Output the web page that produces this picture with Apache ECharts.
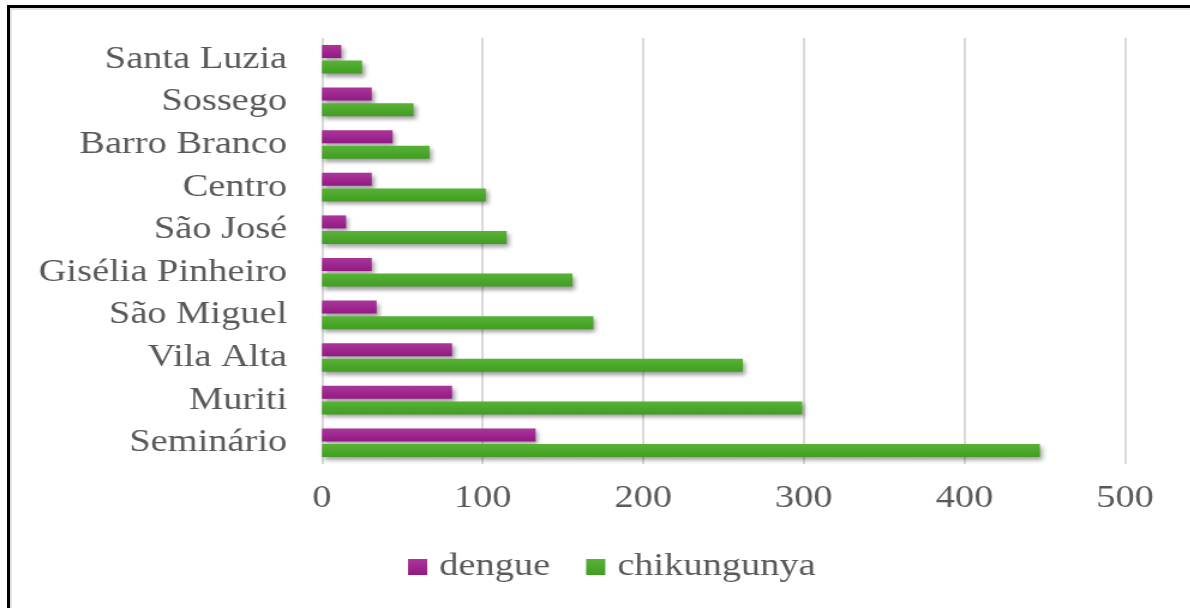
<!DOCTYPE html>
<html>
<head>
<meta charset="utf-8">
<script src="https://cdn.jsdelivr.net/npm/echarts@6/dist/echarts.min.js"></script>
<style>
  html, body { margin: 0; padding: 0; background: #fff; overflow: hidden; }
  #wrap { position: absolute; left: 0; top: 0; width: 1190px; height: 608px; overflow: hidden; background: #fff; }
  #chart { position: absolute; left: 0; top: 0; width: 992px; height: 608px; transform: scaleX(1.2); transform-origin: 0 0; }
  #frame { position: absolute; left: 7px; top: 5px; width: 1180px; height: 600px;
           border-top: 3px solid #000; border-left: 3px solid #000;
           border-right: 2px solid #e4e4e4; border-bottom: 2px solid #e4e4e4;
           box-shadow: inset 2px 2px 0 #e2e2e2; pointer-events: none; }
</style>
</head>
<body>
<div id="wrap">
  <div id="chart"></div>
  <div id="frame"></div>
</div>
<script>
const categories = ['Santa Luzia', 'Sossego', 'Barro Branco', 'Centro', 'São José',
                    'Gisélia Pinheiro', 'São Miguel', 'Vila Alta', 'Muriti', 'Seminário'];
const dengue      = [12, 31, 44, 31, 15, 31, 34, 81, 81, 133];
const chikungunya = [25, 57, 67, 102, 115, 156, 169, 262, 299, 447];
const xTicks = { min: 0, max: 500, interval: 100 };

const chart = echarts.init(document.getElementById('chart'), null, { renderer: 'canvas' });
const font = '"Liberation Serif", "Times New Roman", serif';
const textColor = '#595959';

function grad(top, bottom) {
  return new echarts.graphic.LinearGradient(0, 0, 0, 1, [
    { offset: 0, color: top }, { offset: 1, color: bottom }
  ]);
}
const shadow = { shadowColor: 'rgba(0,0,0,0.38)', shadowBlur: 4, shadowOffsetX: 2, shadowOffsetY: 3 };

chart.setOption({
  animation: false,
  backgroundColor: 'transparent',
  grid: { left: 268.3, right: 54.5, top: 38, bottom: 144, containLabel: false },
  legend: {
    left: 335, top: 546,
    itemWidth: 16, itemHeight: 16, itemGap: 30,
    icon: 'rect',
    textStyle: { fontFamily: font, fontSize: 32, color: textColor, padding: [0, 0, 0, 5] },
    data: ['dengue', 'chikungunya']
  },
  xAxis: {
    type: 'value', min: xTicks.min, max: xTicks.max, interval: xTicks.interval,
    axisLine: { show: false }, axisTick: { show: false },
    axisLabel: { fontFamily: font, fontSize: 32, color: textColor, margin: 19 },
    splitLine: { show: true, lineStyle: { color: '#d9d9d9', width: 2 } }
  },
  yAxis: {
    type: 'category', data: categories, inverse: true,
    axisLine: { show: false }, axisTick: { show: false },
    axisLabel: { fontFamily: font, fontSize: 32, color: textColor, margin: 29 },
    splitLine: { show: false }
  },
  series: [
    { name: 'dengue', type: 'bar', data: dengue, barWidth: 13, barGap: '20%',
      itemStyle: Object.assign({ color: grad('#ab369b', '#921a83') }, shadow) },
    { name: 'chikungunya', type: 'bar', data: chikungunya, barWidth: 13, barGap: '20%',
      itemStyle: Object.assign({ color: grad('#58b236', '#419e23') }, shadow) }
  ]
});
</script>
</body>
</html>
